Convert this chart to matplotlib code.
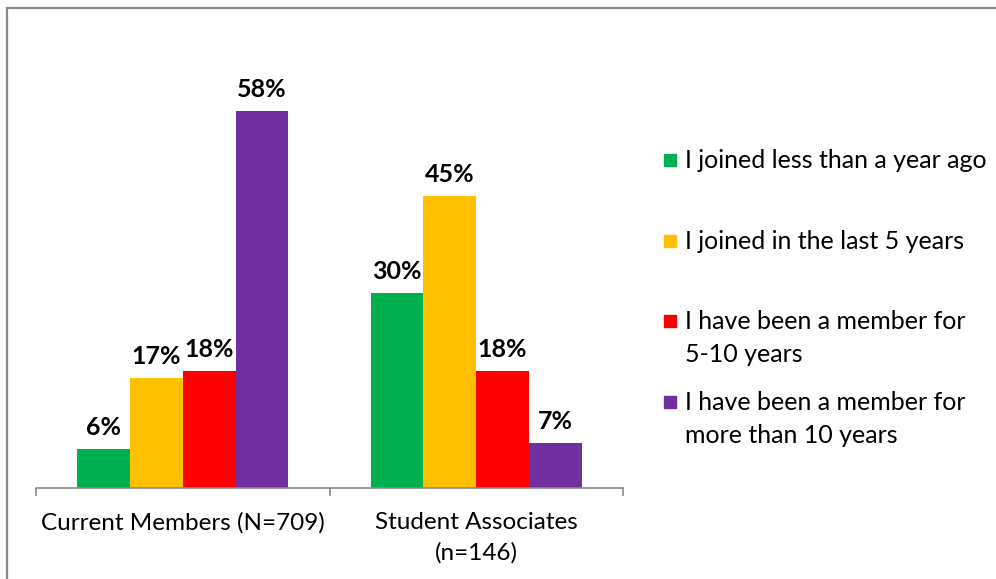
import matplotlib
matplotlib.use("Agg")
import matplotlib.pyplot as plt
import numpy as np
from matplotlib.patches import Rectangle

plt.rcParams["font.family"] = ["Lato", "DejaVu Sans"]

# Data
groups = ["Current Members (N=709)", "Student Associates\n(n=146)"]
series = [
    "I joined less than a year ago",
    "I joined in the last 5 years",
    "I have been a member for\n5-10 years",
    "I have been a member for\nmore than 10 years",
]
colors = ["#00B050", "#FFC000", "#FF0000", "#7030A0"]
current_members = [6, 17, 18, 58]
student_associates = [30, 45, 18, 7]

W, H = 996, 579
fig = plt.figure(figsize=(W / 100, H / 100), dpi=100)

# chart frame (only left / top edges visible in the crop)
fig.patches.append(Rectangle((6.5 / W, -0.1), 1.2, (H - 8) / H + 0.1,
                             transform=fig.transFigure, fill=False,
                             edgecolor="#8a8a8a", linewidth=1.6))

ax = fig.add_axes([36 / W, (H - 488) / H, (623 - 36) / W, 455 / H])
ax.set_xlim(-0.5, 1.5)
ax.set_ylim(0, 70)

x = np.arange(len(groups))
width = 0.18
values = np.array([current_members, student_associates]).T
for i, (name, col) in enumerate(zip(series, colors)):
    pos = x + (i - 1.5) * width
    bars = ax.bar(pos, values[i], width, color=col, label=name)
    for b, v in zip(bars, values[i]):
        ax.annotate(f"{v}%", xy=(b.get_x() + b.get_width() / 2, b.get_height()),
                    xytext=(0, 7), textcoords="offset points",
                    ha="center", va="bottom", fontsize=18, fontweight="bold")

for s in ["left", "right", "top"]:
    ax.spines[s].set_visible(False)
ax.spines["bottom"].set_color("#8a8a8a")
ax.spines["bottom"].set_linewidth(1.2)
ax.set_yticks([])
ax.set_xticks([-0.5, 0.5, 1.5])
ax.set_xticklabels([])
ax.tick_params(axis="x", which="major", length=6, color="#8a8a8a", width=1.2)
ax.set_xticks(x, minor=True)
ax.set_xticklabels(groups, minor=True, fontsize=17.5, linespacing=1.55)
ax.tick_params(axis="x", which="minor", length=0, pad=17)

# legend: evenly spaced slots, marker aligned with first text line
for i, (name, col) in enumerate(zip(series, colors)):
    yc = 160 + i * 80.5
    fig.patches.append(Rectangle((664 / W, 1 - (yc + 6) / H), 12 / W, 12 / H,
                                 transform=fig.transFigure, color=col))
    fig.text(685 / W, 1 - (yc - 11) / H, name, fontsize=18, va="top", ha="left",
             linespacing=1.55)

plt.savefig("out.png", dpi=100)
